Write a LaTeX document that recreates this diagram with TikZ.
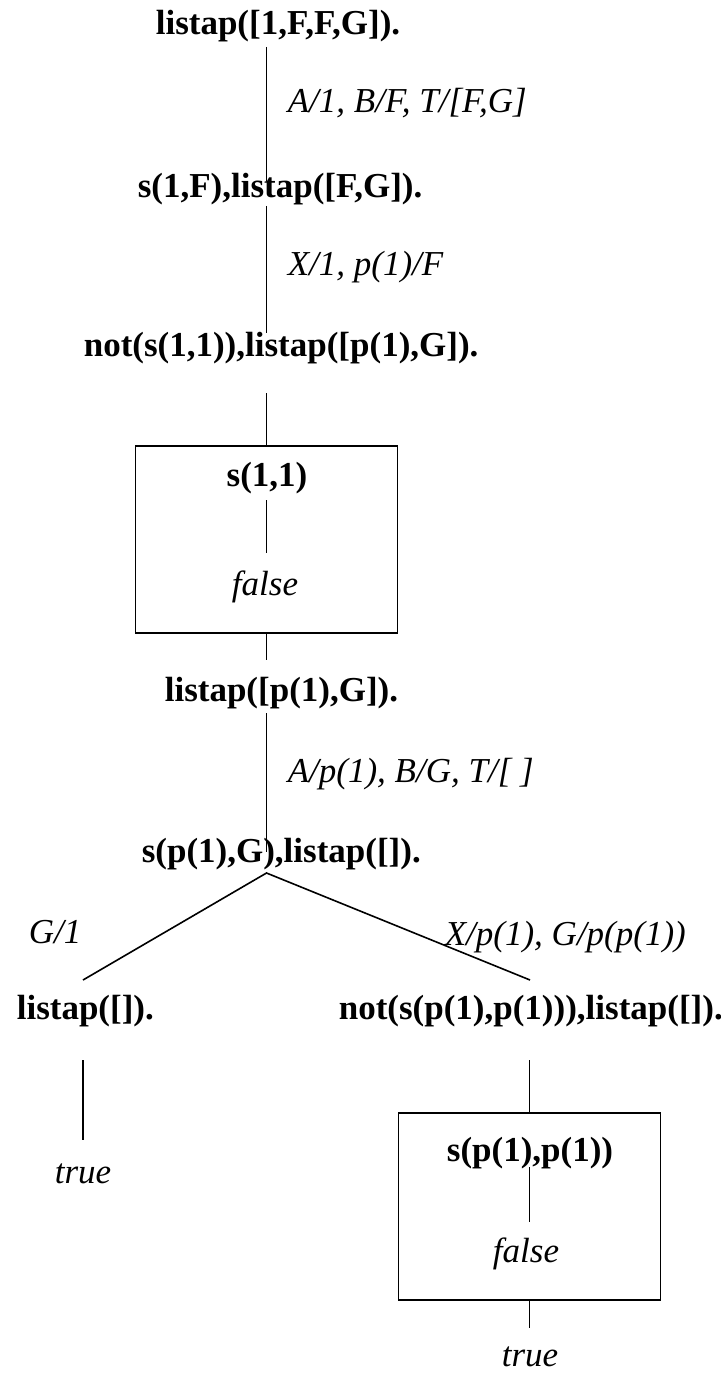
\documentclass[tikz,border=0pt]{standalone}
\usepackage{fontspec}
\setmainfont{Liberation Serif}
\begin{document}
\begin{tikzpicture}[x=0.5pt,y=-0.5pt,line width=0.8pt,
  goal/.style={inner sep=0pt,font=\fontsize{17.5}{21}\selectfont\bfseries},
  subst/.style={inner sep=0pt,font=\fontsize{17.5}{21}\selectfont\itshape},
  negbox/.style={draw,line width=0.9pt,inner sep=0pt,minimum width=131pt,minimum height=93.5pt}]
\useasboundingbox (0,0) rectangle (720,1374);
% goals
\node[goal,anchor=base west] (t1) at (155,35) {listap([1,F,F,G]).};
\node[subst,anchor=base west] (e1) at (287,113) {A/1, B/F, T/[F,G]};
\node[goal,anchor=base west] (t2) at (137,198) {s(1,F),listap([F,G]).};
\node[subst,anchor=base west] (e2) at (287,276) {X/1, p(1)/F};
\node[goal,anchor=base west] (t3) at (83,357) {not(s(1,1)),listap([p(1),G]).};
\node[negbox] (box1) at (266.5,539.5) {};
\node[goal,anchor=base] (b1t) at (267,486) {s(1,1)};
\node[subst,anchor=base] (b1f) at (265,595) {false};
\node[goal,anchor=base west] (t4) at (164,701) {listap([p(1),G]).};
\node[subst,anchor=base west] (e4) at (287,782) {A/p(1), B/G, T/[ ]};
\node[goal,anchor=base west] (t5) at (141,862) {s(p(1),G),listap([]).};
\node[subst,anchor=base west] (e5l) at (28,943) {G/1};
\node[subst,anchor=base west] (e5r) at (444,945) {X/p(1), G/p(p(1))};
\node[goal,anchor=base west] (t6) at (16,1019) {listap([]).};
\node[goal,anchor=base west] (t7) at (338,1019) {not(s(p(1),p(1))),listap([]).};
\node[subst,anchor=base] (true1) at (83,1183) {true};
\node[negbox] (box2) at (529.5,1206.5) {};
\node[goal,anchor=base] (b2t) at (530,1161) {s(p(1),p(1))};
\node[subst,anchor=base] (b2f) at (526,1262) {false};
\node[subst,anchor=base] (true2) at (530,1366) {true};
% connector end points
\coordinate (a1) at (266.5,47);  \coordinate (a2) at (266.5,181);
\coordinate (c1) at (266.5,206); \coordinate (c2) at (266.5,333);
\coordinate (d1) at (266.5,393);
\coordinate (i1) at (266.5,500); \coordinate (i2) at (266.5,553);
\coordinate (f2) at (266.5,660);
\coordinate (g1) at (266.5,713); \coordinate (g2) at (266.5,852);
\coordinate (apex) at (266.5,873);
\coordinate (lft) at (83,980); \coordinate (rgt) at (530,980);
\coordinate (m1) at (83,1060); \coordinate (m2) at (83,1140);
\coordinate (n1) at (529.5,1060);
\coordinate (j1) at (529.5,1167); \coordinate (j2) at (529.5,1222);
\coordinate (k2) at (529.5,1328);
% connectors
\draw (a1) -- (a2);
\draw (c1) -- (c2);
\draw (d1) -- (box1.north);
\draw (i1) -- (i2);
\draw (box1.south) -- (f2);
\draw (g1) -- (g2);
\draw (lft) -- (apex) -- (rgt);
\draw (m1) -- (m2);
\draw (n1) -- (box2.north);
\draw (j1) -- (j2);
\draw (box2.south) -- (k2);
\end{tikzpicture}
\end{document}
